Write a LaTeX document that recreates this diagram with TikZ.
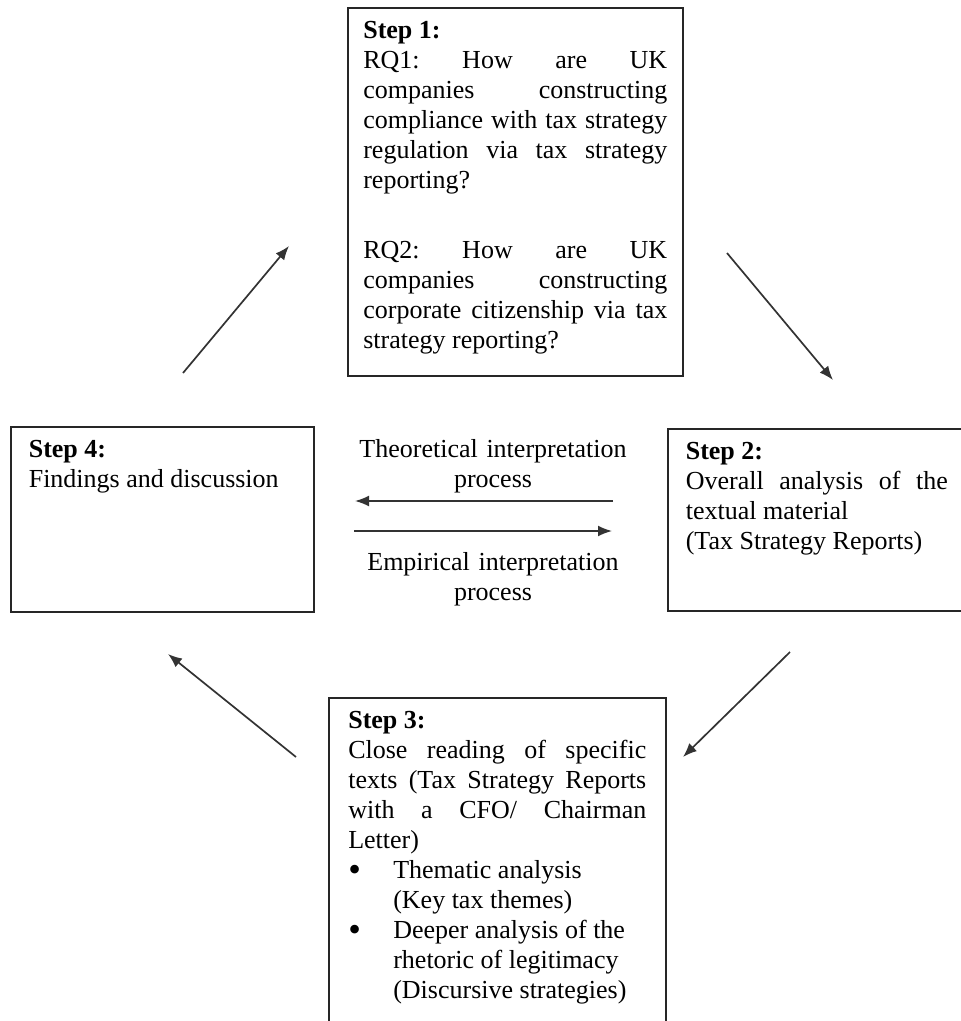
\documentclass[tikz,border=0pt]{standalone}
\usepackage{fontspec}
\setmainfont{Liberation Serif}
\usetikzlibrary{arrows.meta}
\hyphenpenalty=10000
\exhyphenpenalty=10000
\tolerance=10000
\hbadness=10000
\frenchspacing
\tikzset{
	stepbox/.style={draw=black!85, line width=1.6pt, rectangle, anchor=north west, inner ysep=0pt, text height=31pt, font=\fontsize{26}{30}\selectfont},
	proclabel/.style={text width=300pt, align=center, anchor=base, inner sep=0pt, font=\fontsize{26}{30}\selectfont},
	flowarrow/.style={draw=black!80, line width=1.7pt, -{Latex[length=14pt,width=11pt]}}
}
\newcommand{\bulletitem}{\par\hangindent=45pt\hangafter=1\noindent\makebox[45pt][l]{\raisebox{-3pt}{\fontsize{36}{30}\selectfont•}}}
\begin{document}
\begin{tikzpicture}[x=1pt, y=-1pt]
			\useasboundingbox (0,0) rectangle (961,1021);

			\node [stepbox, inner xsep=15.5pt, text depth=337pt] (step1) at (347,7) {\begin{minipage}[t]{304pt}\textbf{Step 1:}\\ RQ1: How are UK companies constructing compliance with tax strategy regulation via tax strategy reporting?\par\vspace{40pt}RQ2: How are UK companies constructing corporate citizenship via tax strategy reporting?\end{minipage}};
			\node [stepbox, inner xsep=18pt, text depth=151pt] (step2) at (667,428) {\begin{minipage}[t]{262pt}\textbf{Step 2:}\\ Overall analysis of the textual material\\(Tax Strategy Reports)\end{minipage}};
			\node [stepbox, inner xsep=19.5pt, text depth=320pt] (step3) at (328,697) {\begin{minipage}[t]{298pt}\textbf{Step 3:}\\ Close reading of specific texts (Tax Strategy Reports with a CFO/ Chairman Letter)
				\bulletitem Thematic analysis\\(Key tax themes)
				\bulletitem Deeper analysis of the\\rhetoric of legitimacy\\(Discursive strategies)\end{minipage}};
			\node [stepbox, inner xsep=18pt, text depth=154pt] (step4) at (10,426) {\begin{minipage}[t]{267pt}\textbf{Step 4:}\\ Findings and discussion\end{minipage}};

			\node [proclabel] (theory) at (493,457) {Theoretical interpretation\\process};
			\node [proclabel] (empiric) at (493,570) {Empirical interpretation\\process};

			\coordinate (theoryA) at (613,501);
			\coordinate (theoryB) at (355,501);
			\coordinate (empiricA) at (354,531);
			\coordinate (empiricB) at (612,531);
			\draw [flowarrow] (theoryA) -- (theoryB);
			\draw [flowarrow] (empiricA) -- (empiricB);

			\coordinate (out4) at (183,373);
			\coordinate (in1) at (289,246);
			\coordinate (out1) at (727,253);
			\coordinate (in2) at (833,380);
			\coordinate (out2) at (790,652);
			\coordinate (in3) at (683,757);
			\coordinate (out3) at (296,757);
			\coordinate (in4) at (168,654);
			\draw [flowarrow] (out4) -- (in1);
			\draw [flowarrow] (out1) -- (in2);
			\draw [flowarrow] (out2) -- (in3);
			\draw [flowarrow] (out3) -- (in4);
		\end{tikzpicture}
\end{document}
